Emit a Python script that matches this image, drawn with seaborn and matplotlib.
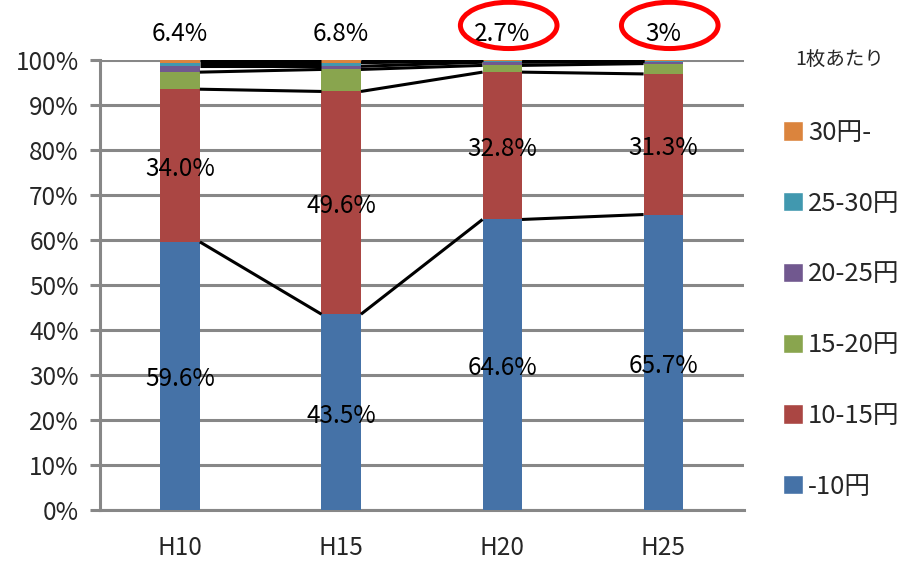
import matplotlib.patches as mpatches
import matplotlib.pyplot as plt
import numpy as np
import pandas as pd
import seaborn as sns

# Data (percent share by price per sheet)
years = ["H10", "H15", "H20", "H25"]
series_names = ["-10円", "10-15円", "15-20円", "20-25円", "25-30円", "30円-"]
under_10 = [59.6, 43.5, 64.6, 65.7]
from_10_15 = [34.0, 49.6, 32.8, 31.3]
from_15_20 = [3.8, 4.9, 1.5, 2.3]
from_20_25 = [1.3, 0.7, 0.7, 0.4]
from_25_30 = [0.8, 0.8, 0.3, 0.2]
over_30 = [0.5, 0.5, 0.1, 0.1]
top_labels = ["6.4%", "6.8%", "2.7%", "3%"]
circled = ["H20", "H25"]

colors = ["#4572a7", "#aa4643", "#89a54e", "#71588f", "#4198af", "#db843d"]
grid_grey = "#878787"
bar_width = 0.245
fs = 17.5

sns.set_style("white")
plt.rcParams["font.family"] = ["Noto Sans CJK JP", "DejaVu Sans"]

values = np.array([under_10, from_10_15, from_15_20, from_20_25, from_25_30, over_30])
cum = values.cumsum(axis=0)

fig = plt.figure(figsize=(9.06, 5.65), dpi=100)
ax = fig.add_axes([0.110, 0.098, 0.711, 0.795])

# Stacked bars: draw cumulative totals from top series down
for k in range(len(series_names) - 1, -1, -1):
    df = pd.DataFrame({"year": years, "value": cum[k]})
    sns.barplot(data=df, x="year", y="value", color=colors[k],
                width=bar_width, saturation=1, ax=ax, zorder=3,
                linewidth=0)

# Series lines between adjacent bars
for k in range(len(series_names)):
    for i in range(len(years) - 1):
        ax.plot([i + bar_width / 2, i + 1 - bar_width / 2],
                [cum[k][i], cum[k][i + 1]],
                color="black", lw=2.2, zorder=4, solid_capstyle="butt")

# Data labels for the two lowest series
for k in range(2):
    bottoms = cum[k] - values[k]
    for i in range(len(years)):
        ax.text(i, bottoms[i] + values[k][i] / 2 - 0.8, f"{values[k][i]:.1f}%",
                ha="center", va="center", fontsize=fs, color="black", zorder=5)

# Labels above the bars
for i, lab in enumerate(top_labels):
    ax.text(i, 106.0, lab, ha="center", va="center", fontsize=fs,
            color="black", clip_on=False)
    if years[i] in circled:
        ax.add_patch(mpatches.Ellipse((i + 0.04, 107.8), 0.6, 10.3,
                                      fill=False, edgecolor="#ff0000", lw=3.6,
                                      clip_on=False, zorder=6))

# Axes styling
ax.set_xlim(-0.5, 3.5)
ax.set_ylim(0, 100)
ax.set_yticks(np.arange(0, 101, 10))
ax.set_yticklabels([f"{t}%" for t in range(0, 101, 10)])
ax.set_xlabel("")
ax.set_ylabel("")
ax.grid(axis="y", color=grid_grey, lw=2.2, zorder=0)
ax.grid(axis="x", visible=False)
for side in ["top", "right"]:
    ax.spines[side].set_visible(False)
for side in ["left", "bottom"]:
    ax.spines[side].set_color(grid_grey)
    ax.spines[side].set_linewidth(2.2)
ax.tick_params(axis="y", length=7, width=2.2, color=grid_grey, pad=8,
               labelsize=fs, left=True)
ax.tick_params(axis="x", length=0, pad=18, labelsize=fs)

# Legend
handles = [mpatches.Patch(facecolor=colors[k], label=series_names[k])
           for k in range(len(series_names) - 1, -1, -1)]
ax.legend(handles=handles, loc="upper left",
          bbox_to_anchor=(783 / 906, 1 - 120 / 565),
          bbox_transform=fig.transFigure, frameon=False, fontsize=18.5,
          handlelength=0.78, handleheight=0.78, handletextpad=0.2,
          labelspacing=1.74, borderpad=0, borderaxespad=0)
fig.text(840 / 906, 1 - 60 / 565, "1枚あたり", ha="center", va="center",
         fontsize=14)

fig.savefig("out.png", dpi=100)
